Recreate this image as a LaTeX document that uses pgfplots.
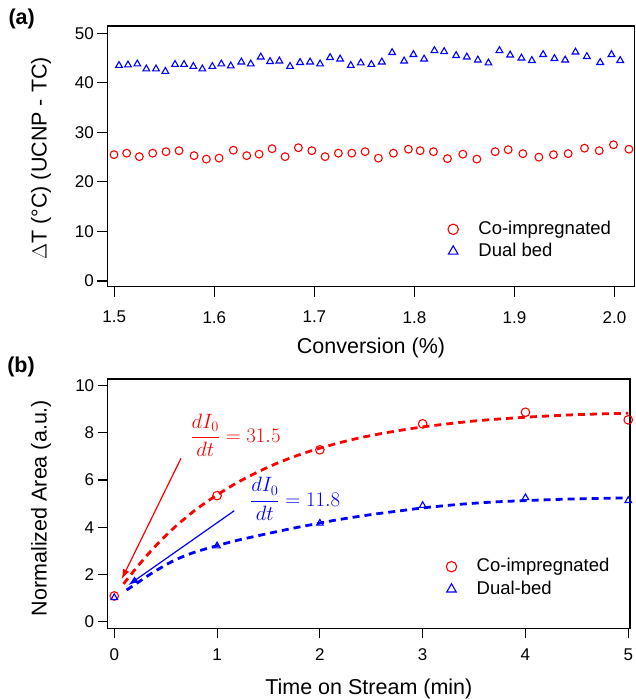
\documentclass[border=0pt]{standalone}
\usepackage{fontspec}
\setmainfont{Liberation Sans}
\usepackage{pgfplots}
\usepackage{pgfplotstable}
\pgfplotsset{compat=1.18}
\usetikzlibrary{arrows.meta}

\definecolor{cred}{RGB}{255,0,0}
\definecolor{cblue}{RGB}{0,0,255}

\pgfplotstableread{
x y
1.4997 25.5
1.5124 25.8
1.5250 25.1
1.5384 25.8
1.5517 26.1
1.5647 26.3
1.5797 25.3
1.5920 24.6
1.6047 24.8
1.6190 26.4
1.6324 25.3
1.6447 25.6
1.6577 26.7
1.6707 25.1
1.6840 26.9
1.6974 26.3
1.7107 25.1
1.7240 25.8
1.7374 25.8
1.7507 26.1
1.7640 24.8
1.7790 25.8
1.7940 26.6
1.8057 26.3
1.8190 26.1
1.8330 24.7
1.8484 25.6
1.8624 24.6
1.8807 26.1
1.8937 26.5
1.9084 25.7
1.9244 25.0
1.9390 25.5
1.9537 25.7
1.9700 26.8
1.9847 26.3
1.9990 27.5
2.0144 26.6
}\coimpA

\pgfplotstableread{
x y
1.5047 43.5
1.5137 43.6
1.5230 43.8
1.5320 42.8
1.5417 42.8
1.5510 42.3
1.5607 43.7
1.5697 43.7
1.5790 43.3
1.5880 42.8
1.5980 43.3
1.6070 43.8
1.6164 43.4
1.6270 44.2
1.6364 43.8
1.6464 45.2
1.6557 44.3
1.6650 44.4
1.6757 43.3
1.6857 44.1
1.6957 44.2
1.7057 43.8
1.7157 45.1
1.7257 44.8
1.7364 43.5
1.7464 44.0
1.7570 43.7
1.7674 44.2
1.7777 46.1
1.7897 44.4
1.7990 45.7
1.8097 44.8
1.8200 46.5
1.8297 46.3
1.8417 45.5
1.8524 45.2
1.8634 44.6
1.8740 44.0
1.8850 46.5
1.8957 45.6
1.9070 45.0
1.9174 44.5
1.9287 45.7
1.9400 44.9
1.9507 44.6
1.9610 46.2
1.9724 45.3
1.9857 44.1
1.9970 45.7
2.0057 44.5
}\dualA

\pgfplotstableread{
x y
0 1.09
1 5.34
2 7.28
3 8.38
4 8.87
5 8.55
}\coimpB

\pgfplotstableread{
x y
0 1.02
1 3.21
2 4.17
3 4.92
4 5.25
5 5.13
}\dualB

\pgfplotstableread{
x y
0.09 1.60
0.2 2.20
0.3 2.72
0.4 3.20
0.5 3.64
0.6 4.05
0.7 4.42
0.8 4.77
1.0 5.37
1.2 5.90
1.4 6.35
1.6 6.74
1.8 7.07
2.0 7.35
2.3 7.70
2.6 7.97
3.0 8.25
3.5 8.50
4.0 8.66
4.5 8.77
5.0 8.83
}\fitcoimp

\pgfplotstableread{
x y
0.12 1.34
0.25 1.72
0.364 2.05
0.558 2.54
0.753 2.90
1.0 3.22
1.21 3.46
1.47 3.71
1.73 3.95
1.98 4.16
2.19 4.33
2.52 4.55
2.84 4.73
3.0 4.82
3.33 4.96
3.65 5.06
4.0 5.13
4.47 5.20
4.95 5.24
}\fitdual

\pgfplotsset{
  panel/.style={
    scale only axis,
    axis line style={line width=1.1pt},
    every tick/.style={line width=1.1pt, black},
    tick align=outside,
    major tick length=10pt,
    xtick pos=bottom, ytick pos=left,
    tick label style={font=\fontsize{17}{20}\selectfont},
    label style={font=\fontsize{21.5}{25}\selectfont},
    /pgf/number format/assume math mode=true,
    legend cell align=left,
    legend style={draw=none, fill=none, inner sep=0pt, outer sep=0pt,
      font=\fontsize{18.5}{22}\selectfont,
      nodes={inner sep=0pt, text height=13.5pt, text depth=3.9pt},
      /tikz/every odd column/.append style={column sep=20pt},
      legend image code/.code={\draw[##1] plot coordinates {(0pt,0pt)};}},
  },
}

\begin{document}
\begin{tikzpicture}
\path[use as bounding box] (0pt,0pt) rectangle (636pt,699pt);

% (a)
\begin{axis}[panel,
  at={(107.3pt,412.3pt)}, anchor=south west,
  width=527pt, height=260.7pt,
  xmin=1.493, xmax=2.0198, ymin=-1.15, ymax=51.47,
  xtick={1.5,1.6,1.7,1.8,1.9,2.0},
  xticklabels={1.5,1.6,1.7,1.8,1.9,2.0},
  xticklabel style={yshift=-11pt},
  ytick={0,10,20,30,40,50},
  xlabel={Conversion (\%)},
  ylabel={$\Delta$T (°C) (UCNP - TC)},
  xlabel style={at={(axis description cs:0.5004,-0.2355)}, anchor=center},
  ylabel style={at={(axis description cs:-0.1258,0.4925)}, rotate=0, anchor=center},
  legend style={at={(axis description cs:0.6465,0.2535)}, anchor=north west, row sep=4.6pt},
]
\addplot[only marks, mark=o, cred, mark size=3.9pt, line width=1.1pt, forget plot] table {\coimpA};
\addplot[only marks, mark=triangle, cblue, mark size=3.9pt, line width=1.1pt, forget plot] table {\dualA};
\addlegendimage{only marks, mark=o, cred, mark size=5.2pt, line width=1.1pt}
\addlegendentry{Co-impregnated}
\addlegendimage{only marks, mark=triangle, cblue, mark size=5.5pt, line width=1.1pt}
\addlegendentry{Dual bed}
\end{axis}

% (b)
\begin{axis}[panel,
  at={(107.7pt,70.7pt)}, anchor=south west,
  width=522.3pt, height=249.3pt,
  xmin=-0.064, xmax=5.017, ymin=-0.28, ymax=10.28,
  xtick={0,1,2,3,4,5},
  xticklabel style={yshift=-7pt},
  ytick={0,2,4,6,8,10},
  xlabel={Time on Stream (min)},
  ylabel={Normalized Area (a.u.)},
  xlabel style={at={(axis description cs:0.5,-0.245)}, anchor=center},
  ylabel style={at={(axis description cs:-0.1277,0.4826)}, rotate=0, anchor=center},
  legend style={at={(axis description cs:0.6483,0.282)}, anchor=north west, row sep=5.2pt},
]
\addplot[cred, line width=2.8pt, dash pattern=on 7pt off 5pt, smooth, forget plot] table {\fitcoimp};
\addplot[cblue, line width=2.8pt, dash pattern=on 7pt off 5pt, smooth, forget plot] table {\fitdual};
\addplot[only marks, mark=o, cred, mark size=4.3pt, line width=1.1pt, forget plot] table {\coimpB};
\addplot[only marks, mark=triangle, cblue, mark size=3.8pt, line width=1.1pt, forget plot] table {\dualB};
\draw[cred, line width=1.2pt, -{Latex[length=10pt,width=7pt]}] (axis cs:0.649,6.92) -- (axis cs:0.072,1.80);
\draw[cblue, line width=1.2pt, -{Latex[length=10pt,width=7pt]}] (axis cs:1.167,4.70) -- (axis cs:0.136,1.55);
\node[cred, anchor=west, inner sep=0pt, font=\fontsize{20.5}{24}\selectfont] at (axis cs:0.74,7.91) {$\displaystyle\frac{dI_0}{dt}=31.5$};
\node[cblue, anchor=west, inner sep=0pt, font=\fontsize{20.5}{24}\selectfont] at (axis cs:1.32,5.20) {$\displaystyle\frac{dI_0}{dt}=11.8$};
\addlegendimage{only marks, mark=o, cred, mark size=5.2pt, line width=1.1pt}
\addlegendentry{Co-impregnated}
\addlegendimage{only marks, mark=triangle, cblue, mark size=5.5pt, line width=1.1pt}
\addlegendentry{Dual-bed}
\end{axis}

\node[font=\fontsize{21.5}{25}\selectfont\bfseries] at (21.7pt,680pt) {(a)};
\node[font=\fontsize{21.5}{25}\selectfont\bfseries] at (21pt,332pt) {(b)};
\end{tikzpicture}
\end{document}
